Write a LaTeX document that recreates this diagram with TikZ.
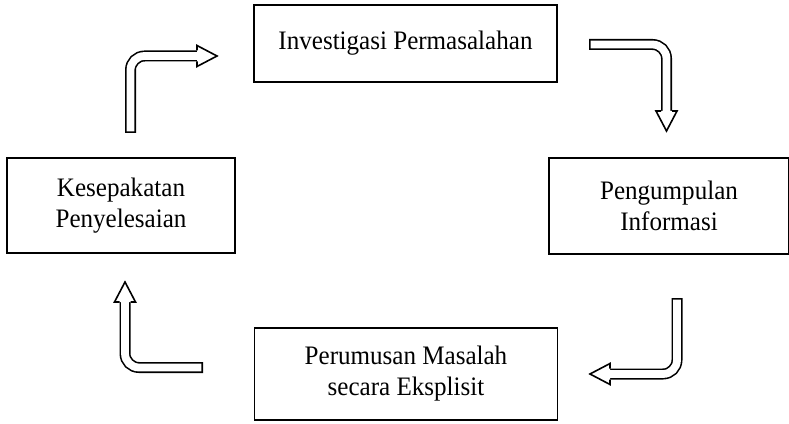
\documentclass[tikz,border=0pt]{standalone}
\usepackage{fontspec}
\setmainfont[FakeStretch=0.94]{Liberation Serif}

\tikzset{
  box/.style={draw, line width=1.3pt, align=center, inner sep=0pt,
    font=\fontsize{20}{23.25}\selectfont},
  shaftout/.style={line width=8.25pt, rounded corners=10.5pt},
  shaftin/.style={white, line width=5.85pt, rounded corners=10.5pt, shorten <=1.2pt},
  head/.style={draw, line width=1.2pt, fill=white, line join=miter},
}

\begin{document}
\begin{tikzpicture}[x=0.75pt,y=-0.75pt]
\useasboundingbox (0,0) rectangle (789,424);
\clip (0,0) rectangle (789,424);
% boxes
\node[box, minimum width=227.25pt, minimum height=57.75pt] (invest) at (405.5,43.5) {Investigasi Permasalahan};
\node[box, minimum width=180pt, minimum height=72pt] (kumpul) at (669,206) {Pengumpulan\\Informasi};
\node[box, minimum width=227.25pt, minimum height=69pt] (rumus) at (406,374) {Perumusan Masalah\\secara Eksplisit};
\node[box, minimum width=171pt, minimum height=71.25pt] (sepakat) at (121,205.5) {Kesepakatan\\Penyelesaian};
% arrow ends
\coordinate (a1s) at (130.5,133);
\coordinate (a1e) at (197,56);
\coordinate (a2s) at (589,44.5);
\coordinate (a2e) at (666.5,111);
\coordinate (a3s) at (677,298);
\coordinate (a3e) at (610,374);
\coordinate (a4s) at (203,367.5);
\coordinate (a4e) at (125,302);
% sepakat -> invest
\draw[shaftout] (a1s) |- (a1e);
\draw[shaftin] (a1s) |- (a1e);
\draw[head] (a1e) ++(0,-5.5) -- ++(0,-5) -- ++(20,10.5) -- ++(-20,10.5) -- ++(0,-5);
% invest -> kumpul
\draw[shaftout] (a2s) -| (a2e);
\draw[shaftin] (a2s) -| (a2e);
\draw[head] (a2e) ++(-5.5,0) -- ++(-5,0) -- ++(10.5,20) -- ++(10.5,-20) -- ++(-5,0);
% kumpul -> rumus
\draw[shaftout] (a3s) |- (a3e);
\draw[shaftin] (a3s) |- (a3e);
\draw[head] (a3e) ++(0,-5.5) -- ++(0,-5) -- ++(-20,10.5) -- ++(20,10.5) -- ++(0,-5);
% rumus -> sepakat
\draw[shaftout] (a4s) -| (a4e);
\draw[shaftin] (a4s) -| (a4e);
\draw[head] (a4e) ++(-5.5,0) -- ++(-5,0) -- ++(10.5,-20) -- ++(10.5,20) -- ++(-5,0);
\end{tikzpicture}
\end{document}
